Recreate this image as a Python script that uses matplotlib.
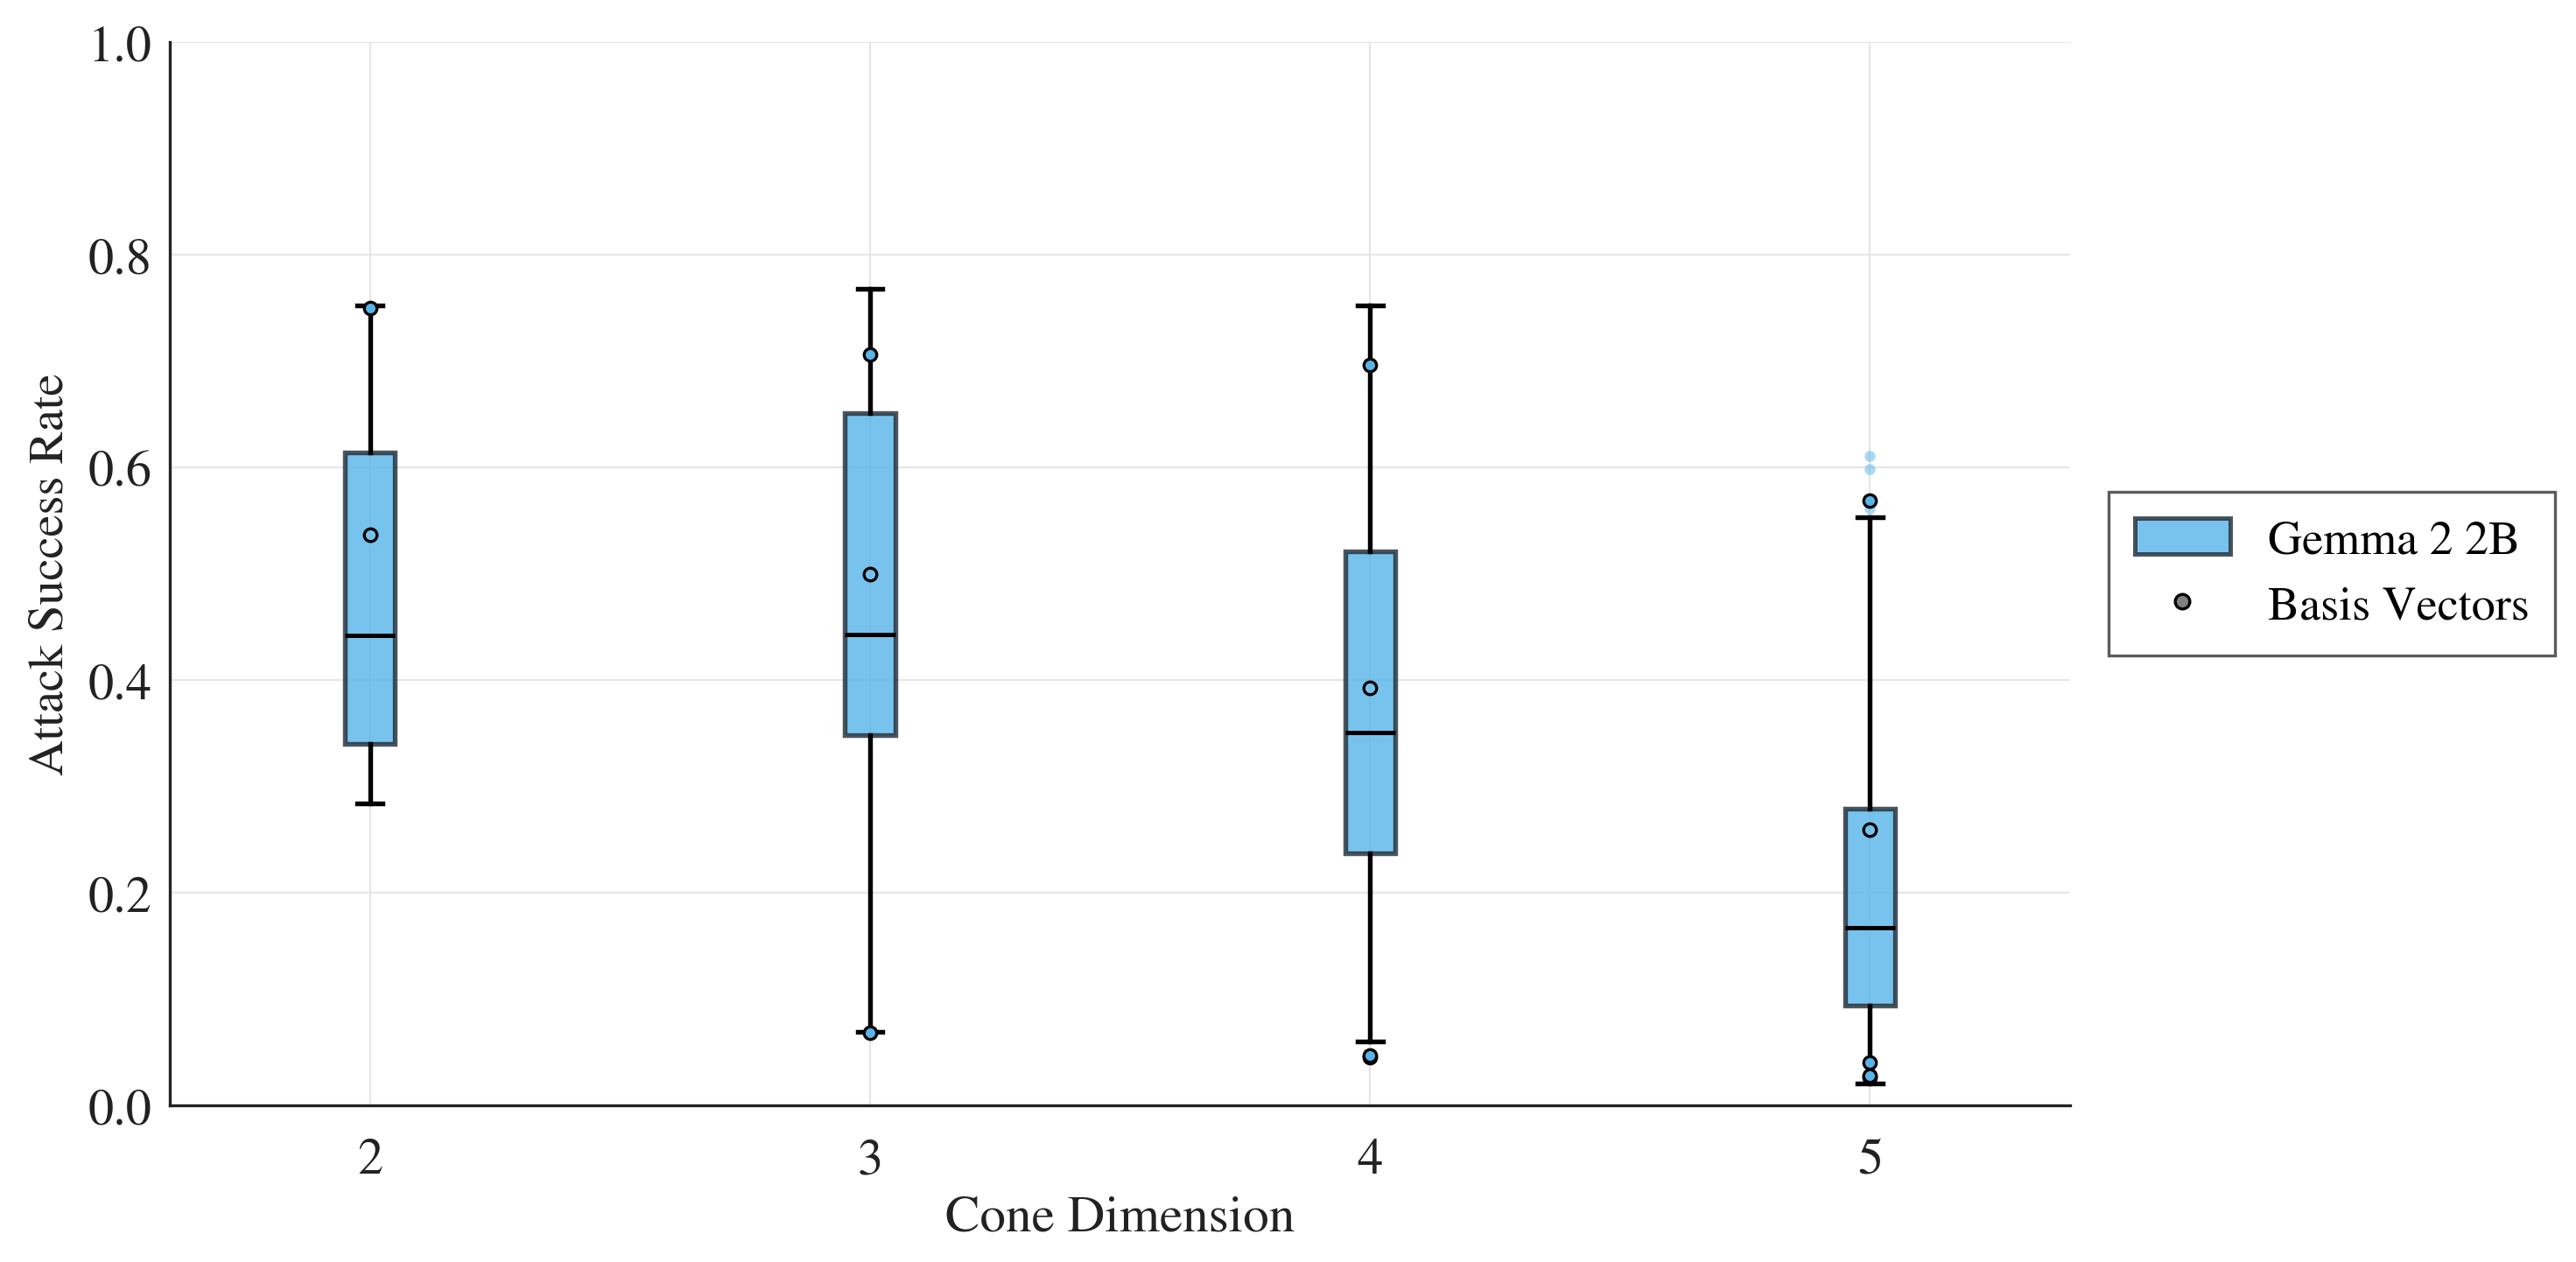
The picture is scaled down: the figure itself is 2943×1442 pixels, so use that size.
import matplotlib
matplotlib.use("Agg")
import matplotlib.pyplot as plt
from matplotlib.patches import Patch
from matplotlib.lines import Line2D

plt.rcParams['font.family'] = ['STIXGeneral', 'Liberation Serif', 'DejaVu Serif']

# values
dims = [2, 3, 4, 5]
q1 = [0.340, 0.348, 0.237, 0.094]
med = [0.442, 0.443, 0.351, 0.167]
q3 = [0.614, 0.651, 0.521, 0.279]
whislo = [0.284, 0.069, 0.060, 0.021]
whishi = [0.752, 0.768, 0.752, 0.553]
means = [0.537, 0.500, 0.393, 0.259]
fliers = [[], [], [], [0.611, 0.598, 0.561]]

# basis vector ASR per cone dimension
basis = {
    2: [0.750],
    3: [0.706, 0.068],
    4: [0.696, 0.045, 0.047],
    5: [0.569, 0.040, 0.026, 0.028],
}

box_color = '#56B4E9'

fig = plt.figure(figsize=(2943 / 300, 1443 / 300), dpi=300)
ax = fig.add_axes([0.066, 0.124, 0.7376, 0.842])

stats = []
for i in range(len(dims)):
    stats.append(dict(q1=q1[i], med=med[i], q3=q3[i], whislo=whislo[i],
                      whishi=whishi[i], mean=means[i], fliers=fliers[i]))

ax.bxp(stats, positions=dims, widths=0.1, showmeans=True, patch_artist=True,
       boxprops=dict(facecolor=box_color, alpha=0.8, edgecolor='#1f2a33', linewidth=1.3),
       medianprops=dict(color='black', linewidth=1.2),
       whiskerprops=dict(color='black', linewidth=1.3),
       capprops=dict(color='black', linewidth=1.3),
       meanprops=dict(marker='o', markerfacecolor='none', markeredgecolor='black',
                      markersize=3.5, markeredgewidth=0.8),
       flierprops=dict(marker='o', markerfacecolor=box_color, markeredgecolor='none',
                       markersize=3, alpha=0.5))

for d, vals in basis.items():
    ax.scatter([d] * len(vals), vals, s=12, color=box_color, edgecolors='black',
               linewidths=0.8, zorder=5)

ax.set_xlim(1.6, 5.4)
ax.set_ylim(0, 1.0)
ax.set_xticks(dims)
ax.set_xticklabels([str(d) for d in dims])
ax.set_yticks([0.0, 0.2, 0.4, 0.6, 0.8, 1.0])
ax.tick_params(axis='both', length=0, labelsize=14, colors='#222222')
ax.tick_params(axis='y', pad=5)
ax.tick_params(axis='x', pad=9)
ax.grid(True, color='#e6e6e6', linewidth=0.5)
ax.set_axisbelow(True)

for s in ['top', 'right']:
    ax.spines[s].set_visible(False)
for s in ['left', 'bottom']:
    ax.spines[s].set_color('#222222')
    ax.spines[s].set_linewidth(0.8)

ax.set_xlabel('Cone Dimension', fontsize=14.2, color='#222222', labelpad=3)
ax.set_ylabel('Attack Success Rate', fontsize=13.5, color='#222222', labelpad=4)

handles = [
    Patch(facecolor=box_color, alpha=0.8, edgecolor='#1f2a33', linewidth=1.2, label='Gemma 2 2B'),
    Line2D([], [], marker='o', linestyle='none', markerfacecolor='gray',
           markeredgecolor='black', markersize=4, markeredgewidth=0.8, label='Basis Vectors'),
]
leg = ax.legend(handles=handles, loc='center left', bbox_to_anchor=(1.008, 0.5),
                fontsize=13, frameon=True, fancybox=False, handlelength=2.0,
                handleheight=0.78, handletextpad=0.8, borderpad=0.55, labelspacing=0.45)
leg.get_frame().set_edgecolor('#333333')
leg.get_frame().set_linewidth(0.8)

fig.savefig('out.png', dpi=300)
